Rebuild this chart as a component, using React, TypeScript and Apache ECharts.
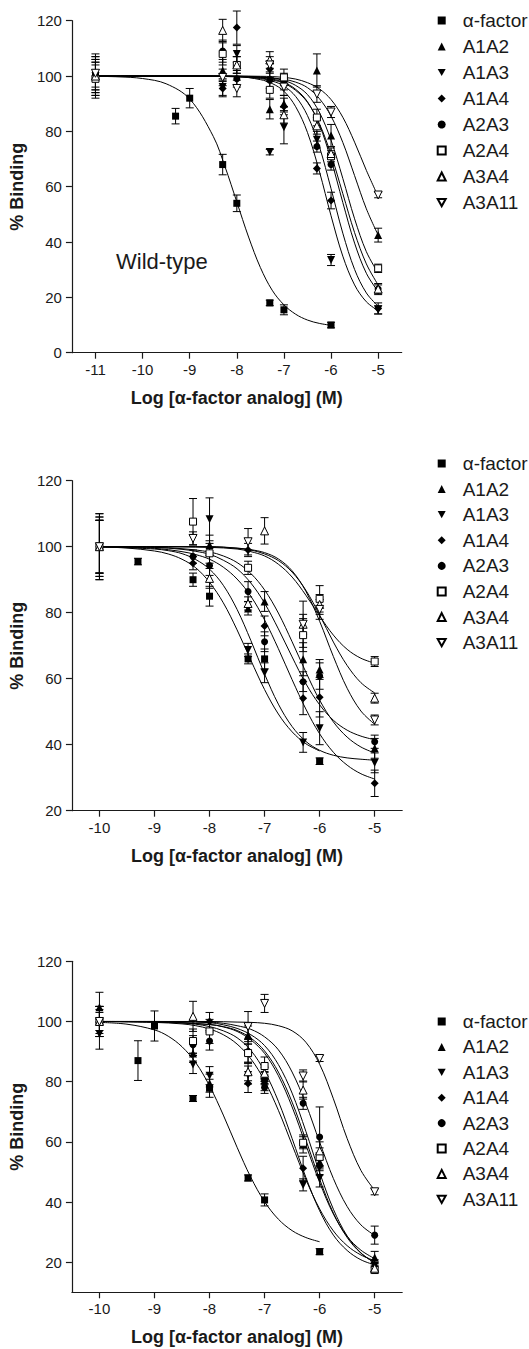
import React, { useEffect, useRef } from 'react';
import * as echarts from 'echarts';

const seriesNames = ['α-factor', 'A1A2', 'A1A3', 'A1A4', 'A2A3', 'A2A4', 'A3A4', 'A3A11'];
const xTicksWide = [-11, -10, -9, -8, -7, -6, -5];
const xTicksNarrow = [-10, -9, -8, -7, -6, -5];
const yTicksPanel1 = [0, 20, 40, 60, 80, 100, 120];
const yTicksPanel23 = [20, 40, 60, 80, 100, 120];
const xAxisTitle = 'Log [α-factor analog] (M)';
const yAxisTitle = '% Binding';
const panelNote = 'Wild-type';

// ---------- Panel 1 (wild-type): [log conc, % binding, error] ----------
const p1Alpha = [[-11, 100, 4], [-9.3, 85.5, 2.8], [-9, 92, 3.5], [-8.3, 68, 3.7], [-8, 54, 3], [-7.3, 18, 1], [-7, 15.5, 1.8], [-6, 10, 1]];
const p1A1A2 = [[-11, 100, 6], [-8.3, 102, 4], [-7.3, 88, 3.5], [-7, 90, 3], [-6.3, 102, 6], [-6, 78.5, 4], [-5, 42.5, 2.5]];
const p1A1A3 = [[-11, 100, 7], [-8.3, 96, 3], [-8, 108, 3], [-7.3, 72.5, 1], [-7, 81.5, 6], [-6.3, 77, 3], [-6, 33.5, 2], [-5, 15.5, 1.5]];
const p1A1A4 = [[-11, 100, 5], [-8.3, 95.5, 3], [-8, 117.5, 6], [-7.3, 102.5, 3], [-7, 89, 3], [-6.3, 66.6, 2], [-6, 55, 3], [-5, 16, 2]];
const p1A2A3 = [[-11, 100, 6], [-8.3, 109, 4], [-8, 99, 3], [-7.3, 98.5, 3], [-7, 98, 3], [-6.3, 74.5, 2], [-6, 68, 2], [-5, 23, 2]];
const p1A2A4 = [[-11, 99, 6], [-8.3, 108, 4], [-8, 104, 3], [-7.3, 95, 3], [-7, 99.5, 3], [-6.3, 85, 3], [-6, 71, 2], [-5, 30.5, 1.5]];
const p1A3A4 = [[-11, 100, 8], [-8.3, 116.5, 4], [-8, 104, 3], [-7.3, 105.8, 3], [-7, 86, 3], [-6.3, 82, 3], [-6, 72, 2], [-5, 23, 1.5]];
const p1A3A11 = [[-11, 101, 6], [-8.3, 99.5, 3], [-8, 95.5, 3], [-7.3, 104, 3], [-7, 96, 3], [-6.3, 93.5, 3], [-6, 87, 2], [-5, 57, 1]];

const c1Alpha = [[-11, 99.9], [-10.5, 99.7], [-10, 99.1], [-9.5, 97.2], [-9, 91.7], [-8.5, 78.2], [-8.25, 67.2], [-8, 54.5], [-7.75, 41.8], [-7.5, 30.8], [-7.25, 22.6], [-7, 17.3], [-6.75, 13.9], [-6.5, 11.8], [-6.25, 10.6], [-6, 9.9]];
const c1A1A2 = [[-11, 100], [-10, 100], [-9, 100], [-8, 99.9], [-7.5, 99.7], [-7, 98.8], [-6.75, 97.8], [-6.5, 95.8], [-6.25, 91.9], [-6, 85.5], [-5.75, 76], [-5.5, 64], [-5.25, 52], [-5, 42.5]];
const c1A1A3 = [[-11, 100], [-10, 100], [-9, 100], [-8, 99.8], [-7.5, 98.7], [-7.25, 97.3], [-7, 94.5], [-6.75, 88.9], [-6.5, 79.6], [-6.25, 65.7], [-6, 49.5], [-5.75, 34.9], [-5.5, 24.5], [-5.25, 18.4], [-5, 15.2]];
const c1A1A4 = [[-11, 100], [-10, 100], [-9, 100], [-8, 99.7], [-7.5, 99.1], [-7.25, 98.2], [-7, 96.4], [-6.75, 92.6], [-6.5, 85.7], [-6.25, 74.6], [-6, 59.3], [-5.75, 43.2], [-5.5, 30.1], [-5.25, 21.6], [-5, 16.8]];
const c1A2A3 = [[-11, 100], [-10, 100], [-9, 100], [-8, 99.9], [-7.5, 99.5], [-7.25, 98.9], [-7, 97.7], [-6.75, 95.2], [-6.5, 90.7], [-6.25, 82.5], [-6, 69.8], [-5.75, 54.3], [-5.5, 39.6], [-5.25, 28.7], [-5, 22.1]];
const c1A2A4 = [[-11, 100], [-10, 100], [-9, 100], [-8, 99.9], [-7.5, 99.6], [-7.25, 99.2], [-7, 98.4], [-6.75, 96.6], [-6.5, 93.3], [-6.25, 87], [-6, 76.8], [-5.75, 63], [-5.5, 48.4], [-5.25, 36.5], [-5, 28.8]];
const c1A3A4 = [[-11, 100], [-10, 100], [-9, 100], [-8, 99.8], [-7.5, 99.3], [-7.25, 98.6], [-7, 97.4], [-6.75, 94.8], [-6.5, 90.5], [-6.25, 82.9], [-6, 71.6], [-5.75, 57.5], [-5.5, 43.4], [-5.25, 32.1], [-5, 24.5]];
const c1A3A11 = [[-11, 100], [-10, 100], [-9, 100], [-8, 100], [-7.5, 99.9], [-7.25, 99.8], [-7, 99.5], [-6.75, 98.9], [-6.5, 97.6], [-6.25, 95.4], [-6, 91.5], [-5.75, 85.1], [-5.5, 76.1], [-5.25, 65.9], [-5, 56.5]];

// ---------- Panel 2 ----------
const p2Alpha = [[-10, 100, 10], [-9.3, 95.5, 1], [-8.3, 90, 2], [-8, 85, 3], [-7.3, 66, 1.5], [-7, 66, 3], [-6, 35, 1]];
const p2A1A2 = [[-10, 100, 8], [-8, 100.5, 3], [-7.3, 81.3, 2], [-7, 83.4, 3], [-6.3, 65.9, 5], [-6, 62.8, 3], [-5, 38.9, 3]];
const p2A1A3 = [[-10, 100, 10], [-8, 108.3, 6.5], [-7.3, 68.7, 2], [-7, 61.8, 3], [-6.3, 40.7, 3], [-6, 45, 5], [-5, 34.5, 3]];
const p2A1A4 = [[-10, 100, 9], [-8.3, 95, 2], [-7.3, 99, 2], [-7, 76, 3], [-6.3, 54.1, 5], [-6, 54.4, 6], [-5, 28.3, 4]];
const p2A2A3 = [[-10, 100, 8], [-8.3, 97, 2], [-8, 94.3, 3], [-7.3, 86.4, 3], [-7, 71.2, 3], [-6.3, 59.1, 3], [-6, 60.8, 4], [-5, 40.9, 2]];
const p2A2A4 = [[-10, 100, 8], [-8.3, 107.6, 7], [-8, 98, 3], [-7.3, 93.6, 2], [-6.3, 73.2, 5], [-6, 84.2, 4], [-5, 65.2, 1.5]];
const p2A3A4 = [[-10, 100, 8], [-8, 90.4, 3], [-7.3, 82.8, 2], [-7, 104.8, 4], [-6.3, 76.5, 7], [-6, 82.5, 3], [-5, 54.1, 1.5]];
const p2A3A11 = [[-10, 100, 9], [-8.3, 102.5, 2], [-7.3, 101.5, 4], [-6.3, 76.5, 3], [-6, 81, 3], [-5, 47.5, 1.5]];

const c2Alpha = [[-10, 99.9], [-9.5, 99.6], [-9, 98.7], [-8.75, 97.8], [-8.5, 96.2], [-8.25, 93.6], [-8, 89.2], [-7.75, 83], [-7.5, 74.8], [-7.25, 65.6], [-7, 56.7], [-6.75, 49.3], [-6.5, 43.9], [-6.25, 40.3], [-6, 38.1]];
const c2A1A2 = [[-10, 100], [-9, 99.8], [-8.5, 99.4], [-8, 98.4], [-7.75, 97.2], [-7.5, 95.2], [-7.25, 91.9], [-7, 86.9], [-6.75, 79.9], [-6.5, 71.2], [-6.25, 62], [-6, 53.5], [-5.75, 46.9], [-5.5, 42.3], [-5.25, 39.3], [-5, 37.5]];
const c2A1A3 = [[-10, 100], [-9, 99.3], [-8.75, 98.8], [-8.5, 97.9], [-8.25, 96.1], [-8, 93.2], [-7.75, 88.3], [-7.5, 81], [-7.25, 71.6], [-7, 61.4], [-6.75, 52.3], [-6.5, 45.5], [-6.25, 41], [-6, 38.3], [-5.75, 36.8], [-5.5, 36], [-5.25, 35.6], [-5, 35.3]];
const c2A1A4 = [[-10, 100], [-9, 99.5], [-8.5, 98.5], [-8.25, 97.6], [-8, 96.2], [-7.75, 93.8], [-7.5, 90.2], [-7.25, 85], [-7, 77.8], [-6.75, 69.1], [-6.5, 59.7], [-6.25, 50.8], [-6, 43.3], [-5.75, 37.7], [-5.5, 33.8], [-5.25, 31.2], [-5, 29.6]];
const c2A2A3 = [[-10, 100], [-9, 99.8], [-8.5, 99.2], [-8.25, 98.6], [-8, 97.7], [-7.75, 95.9], [-7.5, 93.3], [-7.25, 89], [-7, 82.9], [-6.75, 75.1], [-6.5, 66.6], [-6.25, 58.5], [-6, 52.1], [-5.75, 47.4], [-5.5, 44.4], [-5.25, 42.6], [-5, 41.5]];
const c2A2A4 = [[-10, 100], [-9, 100], [-8, 99.8], [-7.5, 99.3], [-7.25, 98.5], [-7, 97.2], [-6.75, 94.7], [-6.5, 90.8], [-6.25, 85.3], [-6, 79], [-5.75, 73.2], [-5.5, 68.9], [-5.25, 66.2], [-5, 64.7]];
const c2A3A4 = [[-10, 100], [-9, 100], [-8, 100], [-7.5, 99.6], [-7.25, 99], [-7, 97.8], [-6.75, 95.8], [-6.5, 92.3], [-6.25, 86.8], [-6, 79.3], [-5.75, 71.1], [-5.5, 64], [-5.25, 58.8], [-5, 55.7]];
const c2A3A11 = [[-10, 100], [-9, 100], [-8, 100], [-7.5, 99.5], [-7.25, 99.1], [-7, 98.2], [-6.75, 96.3], [-6.5, 92.7], [-6.25, 86.5], [-6, 77.4], [-5.75, 66.7], [-5.5, 57.1], [-5.25, 50.2], [-5, 46.2]];

// ---------- Panel 3 ----------
const p3Alpha = [[-10, 100, 4], [-9.3, 87, 6.6], [-9, 98.5, 5], [-8.3, 74.4, 1], [-8, 77.8, 3], [-7.3, 48, 1], [-7, 40.7, 2], [-6, 23.5, 1]];
const p3A1A2 = [[-10, 104.7, 5], [-8.3, 89.4, 3], [-8, 79.5, 3], [-7.3, 95.5, 3], [-7, 81.4, 2], [-6.3, 59.3, 3], [-6, 53.4, 3], [-5, 21.6, 2]];
const p3A1A3 = [[-10, 95.8, 5], [-8.3, 85.7, 3], [-8, 82, 3], [-7.3, 82.2, 3], [-7, 79, 2], [-6.3, 45.7, 2], [-6, 48, 3], [-5, 18.8, 2]];
const p3A1A4 = [[-10, 100, 5], [-8, 100, 3], [-7.3, 79.4, 3], [-7, 81, 2], [-6.3, 51.2, 4], [-6, 52, 3], [-5, 18.5, 1.5]];
const p3A2A3 = [[-10, 100, 5], [-8.3, 92.3, 3], [-8, 93.5, 3], [-7.3, 90, 4], [-7, 78.1, 2], [-6.3, 72.8, 2], [-6, 61.6, 10], [-5, 29, 3]];
const p3A2A4 = [[-10, 100, 5], [-8.3, 93.5, 4], [-8, 96.7, 4], [-7.3, 89.5, 3], [-7, 85.2, 3], [-6.3, 59.7, 2], [-6, 55, 3], [-5, 17.4, 1]];
const p3A3A4 = [[-10, 100, 5], [-8.3, 101.7, 5], [-7.3, 83.3, 3], [-7, 82.8, 2], [-6.3, 77.2, 3], [-6, 57, 3], [-5, 18, 1]];
const p3A3A11 = [[-10, 100, 3], [-7.3, 98.3, 5], [-7, 106, 3], [-6.3, 81.9, 2], [-6, 87.7, 1], [-5, 43.4, 1]];

const c3Alpha = [[-10, 99.7], [-9.5, 99.1], [-9, 97.2], [-8.75, 95.1], [-8.5, 91.6], [-8.25, 86.3], [-8, 78.6], [-7.75, 68.9], [-7.5, 58.2], [-7.25, 48.2], [-7, 40.1], [-6.75, 34.3], [-6.5, 30.5], [-6.25, 28.2], [-6, 26.8]];
const c3A1A2 = [[-10, 100], [-9, 99.9], [-8, 99], [-7.75, 98.2], [-7.5, 96.7], [-7.25, 93.9], [-7, 89.4], [-6.75, 82], [-6.5, 71.6], [-6.25, 59], [-6, 46.5], [-5.75, 36], [-5.5, 28.6], [-5.25, 24], [-5, 21.2]];
const c3A1A3 = [[-10, 100], [-9, 99.7], [-8.5, 99.2], [-8.25, 98.6], [-8, 97.5], [-7.75, 95.6], [-7.5, 92.5], [-7.25, 87.6], [-7, 80.3], [-6.75, 70.5], [-6.5, 59], [-6.25, 47.5], [-6, 37.7], [-5.75, 30.4], [-5.5, 25.5], [-5.25, 22.4], [-5, 20.5]];
const c3A1A4 = [[-10, 100], [-9, 99.8], [-8.5, 99.5], [-8.25, 99.1], [-8, 98.3], [-7.75, 96.9], [-7.5, 94.6], [-7.25, 90.4], [-7, 83.4], [-6.75, 73.5], [-6.5, 61.1], [-6.25, 48.2], [-6, 37.1], [-5.75, 29], [-5.5, 23.9], [-5.25, 20.8], [-5, 19.1]];
const c3A2A3 = [[-10, 100], [-9, 100], [-8, 99.8], [-7.75, 99.4], [-7.5, 98.6], [-7.25, 97.4], [-7, 94.9], [-6.75, 90.6], [-6.5, 83.2], [-6.25, 72.6], [-6, 59.9], [-5.75, 47.8], [-5.5, 38.5], [-5.25, 32.4], [-5, 28.9]];
const c3A2A4 = [[-10, 100], [-9, 99.9], [-8, 99], [-7.75, 98.3], [-7.5, 97], [-7.25, 94.5], [-7, 90.2], [-6.75, 83.2], [-6.5, 73.2], [-6.25, 60.6], [-6, 47.6], [-5.75, 36.3], [-5.5, 28.2], [-5.25, 23], [-5, 19.8]];
const c3A3A4 = [[-10, 100], [-9, 100], [-8, 99.6], [-7.75, 98.9], [-7.5, 97.7], [-7.25, 95.6], [-7, 92], [-6.75, 85.7], [-6.5, 76.2], [-6.25, 63.5], [-6, 49.8], [-5.75, 37.6], [-5.5, 28.7], [-5.25, 23.1], [-5, 19.8]];
const c3A3A11 = [[-10, 100], [-9, 100], [-8, 100], [-7.5, 99.8], [-7.25, 99.7], [-7, 99.4], [-6.75, 98.6], [-6.5, 96.9], [-6.25, 93.1], [-6, 85.8], [-5.75, 74.3], [-5.5, 61.1], [-5.25, 50.5], [-5, 43.9]];

// ---------- styling (not data) ----------
const FONT = '"Liberation Sans", Arial, Helvetica, sans-serif';
const INK = '#1a1a1a';
const DOWN_TRI = 'path://M0,0L10,0L5,9Z';
const markerStyles = [
  { symbol: 'rect', size: 7, fill: '#000' },
  { symbol: 'triangle', size: 8, fill: '#000' },
  { symbol: DOWN_TRI, size: 8, fill: '#000' },
  { symbol: 'diamond', size: 8, fill: '#000' },
  { symbol: 'circle', size: 7, fill: '#000' },
  { symbol: 'rect', size: 7, fill: '#fff' },
  { symbol: 'triangle', size: 8, fill: '#fff' },
  { symbol: DOWN_TRI, size: 8, fill: '#fff' },
];

const panels = [
  {
    points: [p1Alpha, p1A1A2, p1A1A3, p1A1A4, p1A2A3, p1A2A4, p1A3A4, p1A3A11],
    curves: [c1Alpha, c1A1A2, c1A1A3, c1A1A4, c1A2A3, c1A2A4, c1A3A4, c1A3A11],
    xMin: -11.5, xTicks: xTicksWide, yMin: 0, yTicks: yTicksPanel1,
    grid: { left: 70, top: 20.7, width: 331.7, height: 332 },
    legendTop: 6, legendGap: 7,
  },
  {
    points: [p2Alpha, p2A1A2, p2A1A3, p2A1A4, p2A2A3, p2A2A4, p2A3A4, p2A3A11],
    curves: [c2Alpha, c2A1A2, c2A1A3, c2A1A4, c2A2A3, c2A2A4, c2A3A4, c2A3A11],
    xMin: -10.5, xTicks: xTicksNarrow, yMin: 20, yTicks: yTicksPanel23,
    grid: { left: 70.5, top: 480.7, width: 331.7, height: 330 },
    legendTop: 449, legendGap: 6.6,
  },
  {
    points: [p3Alpha, p3A1A2, p3A1A3, p3A1A4, p3A2A3, p3A2A4, p3A3A4, p3A3A11],
    curves: [c3Alpha, c3A1A2, c3A1A3, c3A1A4, c3A2A3, c3A2A4, c3A3A4, c3A3A11],
    xMin: -10.5, xTicks: xTicksNarrow, yMin: 10, yTicks: yTicksPanel23,
    grid: { left: 70.5, top: 961.3, width: 331.7, height: 331 },
    legendTop: 1007, legendGap: 6.4,
  },
];

function buildOption() {
  const axisLine = { show: true, onZero: false, lineStyle: { color: INK, width: 1.2 } };
  const grid = panels.map((p) => ({ ...p.grid, containLabel: false }));
  const xAxis = panels.map((p, i) => ({
    type: 'value', gridIndex: i, min: p.xMin, max: -4.5,
    axisLine,
    axisTick: { show: true, length: 6, customValues: p.xTicks, lineStyle: { color: INK, width: 1.2 } },
    axisLabel: { customValues: p.xTicks, fontSize: 15, color: INK, margin: 9, fontFamily: FONT },
    splitLine: { show: false },
    name: xAxisTitle, nameLocation: 'middle', nameGap: 36,
    nameTextStyle: { fontSize: 18, fontWeight: 'bold', color: INK, fontFamily: FONT },
  }));
  const yAxis = panels.map((p, i) => ({
    type: 'value', gridIndex: i, min: p.yMin, max: 120,
    axisLine,
    axisTick: { show: true, length: 6, customValues: p.yTicks, lineStyle: { color: INK, width: 1.2 } },
    axisLabel: { customValues: p.yTicks, fontSize: 15, color: INK, margin: 10, fontFamily: FONT },
    splitLine: { show: false },
    name: yAxisTitle, nameLocation: 'middle', nameGap: 43, nameRotate: 90,
    nameTextStyle: { fontSize: 18, fontWeight: 'bold', color: INK, fontFamily: FONT },
  }));

  const series: any[] = [];
  panels.forEach((p, i) => {
    const errData: number[][] = [];
    p.points.forEach((pts) => pts.forEach((pt) => errData.push(pt)));
    series.push({
      type: 'custom', name: `err${i}`, xAxisIndex: i, yAxisIndex: i, z: 2, silent: true,
      data: errData,
      encode: { x: 0, y: 1 },
      renderItem: (params: any, api: any) => {
        const x = api.value(0), y = api.value(1), e = api.value(2);
        const top = api.coord([x, y + e]);
        const bot = api.coord([x, y - e]);
        const hw = 4;
        const st = { stroke: '#000', lineWidth: 1 };
        return {
          type: 'group',
          children: [
            { type: 'line', shape: { x1: top[0], y1: top[1], x2: bot[0], y2: bot[1] }, style: st },
            { type: 'line', shape: { x1: top[0] - hw, y1: top[1], x2: top[0] + hw, y2: top[1] }, style: st },
            { type: 'line', shape: { x1: bot[0] - hw, y1: bot[1], x2: bot[0] + hw, y2: bot[1] }, style: st },
          ],
        };
      },
    });
    p.curves.forEach((c, j) => {
      series.push({
        type: 'line', name: `fit${i}-${j}`, xAxisIndex: i, yAxisIndex: i, z: 3, silent: true,
        data: c, showSymbol: false, symbol: 'none', smooth: 0.35,
        lineStyle: { color: '#000', width: 1 }, itemStyle: { color: '#000' },
      });
    });
    p.points.forEach((pts, j) => {
      const m = markerStyles[j];
      series.push({
        type: 'scatter', name: seriesNames[j], xAxisIndex: i, yAxisIndex: i, z: 4,
        data: pts.map((pt) => [pt[0], pt[1]]),
        symbol: m.symbol, symbolSize: m.size,
        itemStyle: { color: m.fill, borderColor: '#000', borderWidth: m.fill === '#fff' ? 1 : 0, opacity: 1 },
      });
    });
  });

  const legend = panels.map((p) => ({
    orient: 'vertical', left: 431.7, top: p.legendTop, itemWidth: 8, itemHeight: 8, itemGap: p.legendGap,
    selectedMode: false,
    data: seriesNames.map((n, j) => ({ name: n, icon: markerStyles[j].symbol })),
    textStyle: { fontSize: 19, lineHeight: 18, color: INK, fontFamily: FONT, padding: [0, 0, 0, 12] },
  }));

  return {
    animation: false,
    backgroundColor: '#fff',
    grid, xAxis, yAxis, series, legend,
    graphic: [
      { type: 'text', x: 116, y: 261, style: { text: panelNote, fontSize: 22, fill: INK, fontFamily: FONT, verticalAlign: 'middle' } },
    ],
  };
}

export default function App() {
  const ref = useRef<HTMLDivElement>(null);
  useEffect(() => {
    document.body.style.margin = '0';
    if (!ref.current) return;
    const chart = echarts.init(ref.current, null, { renderer: 'svg' });
    chart.setOption(buildOption() as any);
    return () => chart.dispose();
  }, []);
  return <div ref={ref} style={{ width: 529, height: 1349 }} />;
}
